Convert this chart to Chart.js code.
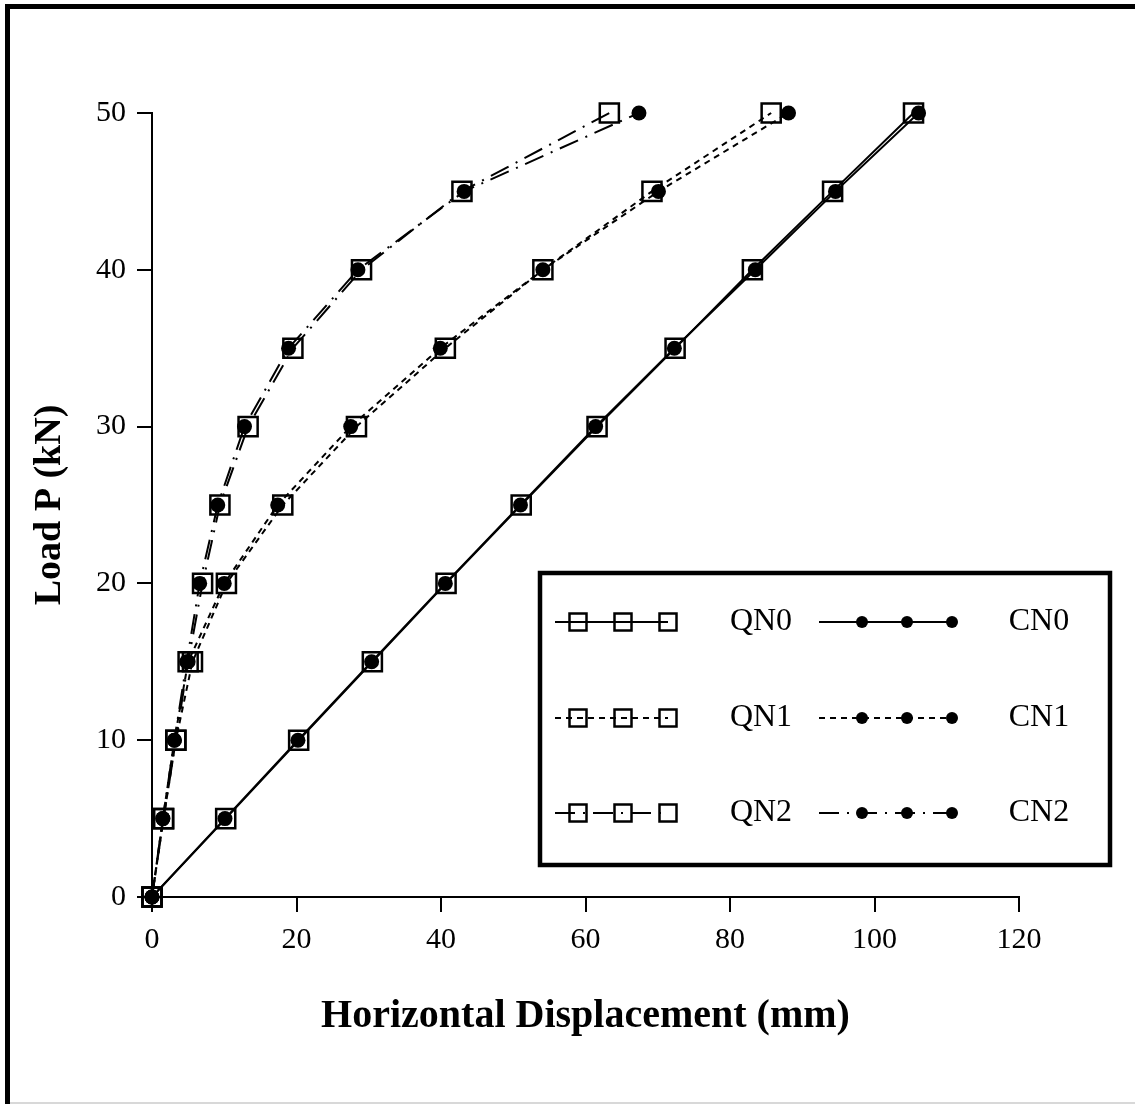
<!DOCTYPE html>
<html>
<head>
<meta charset="utf-8">
<script src="https://cdn.jsdelivr.net/npm/chart.js@4.4.1/dist/chart.umd.min.js"></script>
<style>
  html, body { margin: 0; padding: 0; background: #fff; }
  #wrap { width: 1135px; height: 1104px; }
</style>
</head>
<body>
<div id="wrap"><canvas id="grap" width="1135" height="1104"></canvas></div>
<script>
// carga P (kN) em cada passo
const cargas = [0, 5, 10, 15, 20, 25, 30, 35, 40, 45, 50]

// deslocamento horizontal (mm)
const qn0 = [0, 10.2, 20.3, 30.5, 40.7, 51.1, 61.6, 72.4, 83.1, 94.2, 105.4]
const cn0 = [0, 10.1, 20.2, 30.4, 40.6, 51.0, 61.4, 72.3, 83.5, 94.6, 106.1]
const qn1 = [0, 1.6, 3.3, 5.6, 10.3, 18.1, 28.3, 40.6, 54.1, 69.2, 85.7]
const cn1 = [0, 1.5, 3.1, 5.0, 10.0, 17.4, 27.5, 39.9, 54.1, 70.1, 88.1]
const qn2 = [0, 1.6, 3.3, 5.0, 7.0, 9.4, 13.3, 19.5, 29.0, 42.9, 63.3]
const cn2 = [0, 1.5, 3.1, 4.8, 6.6, 9.1, 12.8, 18.9, 28.5, 43.2, 67.4]

const nomes = ["QN0", "QN1", "QN2", "CN0", "CN1", "CN2"]
const ticksX = [0, 20, 40, 60, 80, 100, 120]
const ticksY = [0, 10, 20, 30, 40, 50]

const tracos = [[], [6, 5], [20, 8, 2, 8]]
const fonte = "'Liberation Serif', 'Times New Roman', serif"

function pontos(xs) {
    return xs.map((v, i) => ({ x: v, y: cargas[i] }))
}

function serieQ(nome, xs, traco) {
    return {
        label: nome,
        data: pontos(xs),
        clip: false,
        borderColor: '#000',
        borderWidth: 2,
        borderDash: traco,
        pointStyle: 'rect',
        pointRadius: 13.5,
        pointBorderWidth: 2.5,
        pointBorderColor: '#000',
        pointBackgroundColor: 'rgba(0,0,0,0)',
        order: 2
    }
}

function serieC(nome, xs, traco) {
    return {
        label: nome,
        data: pontos(xs),
        clip: false,
        borderColor: '#000',
        borderWidth: 2,
        borderDash: traco,
        pointStyle: 'circle',
        pointRadius: 7.5,
        pointBorderWidth: 0,
        pointBackgroundColor: '#000',
        order: 1
    }
}

const moldura = {
    id: 'moldura',
    beforeDraw(chart) {
        const ctx = chart.ctx
        ctx.save()
        ctx.fillStyle = '#fff'
        ctx.fillRect(0, 0, chart.width, chart.height)
        ctx.fillStyle = '#000'
        ctx.fillRect(5, 4, 5, chart.height - 4)
        ctx.fillRect(5, 4, chart.width - 5, 5)
        ctx.fillStyle = '#d8d8d8'
        ctx.fillRect(10, chart.height - 2, chart.width - 10, 2)
        ctx.restore()
    }
}

// legenda em caixa, duas colunas x tres linhas
const legenda = {
    id: 'legenda',
    afterDatasetsDraw(chart) {
        const ctx = chart.ctx
        ctx.save()
        ctx.fillStyle = '#fff'
        ctx.fillRect(540, 573, 570, 292)
        ctx.strokeStyle = '#000'
        ctx.lineWidth = 4.5
        ctx.strokeRect(540, 573, 570, 292)

        const linhas = [622, 718, 813]
        const colunas = [
            { x0: 555, marcas: [578, 623, 668], texto: 761 },
            { x0: 819, marcas: [862, 907, 952], texto: 1039 }
        ]
        chart.data.datasets.forEach((ds, i) => {
            const col = colunas[Math.floor(i / 3)]
            const y = linhas[i % 3]
            ctx.setLineDash(ds.borderDash)
            ctx.lineWidth = 2
            ctx.strokeStyle = '#000'
            ctx.beginPath()
            ctx.moveTo(col.x0, y)
            ctx.lineTo(col.marcas[2], y)
            ctx.stroke()
            ctx.setLineDash([])
            col.marcas.forEach(mx => {
                if (ds.pointStyle === 'rect') {
                    ctx.lineWidth = 2.5
                    ctx.strokeRect(mx - 8.5, y - 8.5, 17, 17)
                } else {
                    ctx.fillStyle = '#000'
                    ctx.beginPath()
                    ctx.arc(mx, y, 6, 0, Math.PI * 2)
                    ctx.fill()
                }
            })
            ctx.fillStyle = '#000'
            ctx.font = "32px " + fonte
            ctx.textAlign = 'center'
            ctx.textBaseline = 'middle'
            ctx.fillText(ds.label, col.texto, y)
        })
        ctx.restore()
    }
}

function criarGraf() {
    const ctx = document.getElementById('grap').getContext('2d')

    new Chart(ctx, {
        type: 'line',
        data: {
            datasets: [
                serieQ(nomes[0], qn0, tracos[0]),
                serieQ(nomes[1], qn1, tracos[1]),
                serieQ(nomes[2], qn2, tracos[2]),
                serieC(nomes[3], cn0, tracos[0]),
                serieC(nomes[4], cn1, tracos[1]),
                serieC(nomes[5], cn2, tracos[2])
            ]
        },
        options: {
            responsive: false,
            animation: false,
            maintainAspectRatio: false,
            layout: {
                padding: { left: 10, top: 113, right: 116, bottom: 40 }
            },
            plugins: {
                legend: { display: false },
                tooltip: { enabled: false }
            },
            scales: {
                x: {
                    type: 'linear',
                    min: 0,
                    max: 120,
                    afterFit: s => { s.height = 167 },
                    afterBuildTicks: s => { s.ticks = ticksX.map(v => ({ value: v })) },
                    border: { display: true, color: '#000', width: 2 },
                    grid: { drawOnChartArea: false, drawTicks: true, tickLength: 15, color: '#000', lineWidth: 2 },
                    ticks: {
                        color: '#000',
                        padding: 10,
                        maxRotation: 0,
                        font: { family: fonte, size: 30 }
                    },
                    title: {
                        display: true,
                        text: 'Horizontal Displacement (mm)',
                        color: '#000',
                        font: { family: fonte, size: 40, weight: 'bold' },
                        padding: { top: 0, bottom: 23 }
                    }
                },
                y: {
                    type: 'linear',
                    min: 0,
                    max: 50,
                    afterFit: s => { s.width = 142 },
                    afterBuildTicks: s => { s.ticks = ticksY.map(v => ({ value: v })) },
                    border: { display: true, color: '#000', width: 2 },
                    grid: { drawOnChartArea: false, drawTicks: true, tickLength: 15, color: '#000', lineWidth: 2 },
                    ticks: {
                        color: '#000',
                        padding: 11,
                        font: { family: fonte, size: 30 }
                    },
                    title: {
                        display: true,
                        text: 'Load P (kN)',
                        color: '#000',
                        font: { family: fonte, size: 38, weight: 'bold' },
                        padding: { top: 17, bottom: 0 }
                    }
                }
            }
        },
        plugins: [moldura, legenda]
    })
}

criarGraf()
</script>
</body>
</html>
